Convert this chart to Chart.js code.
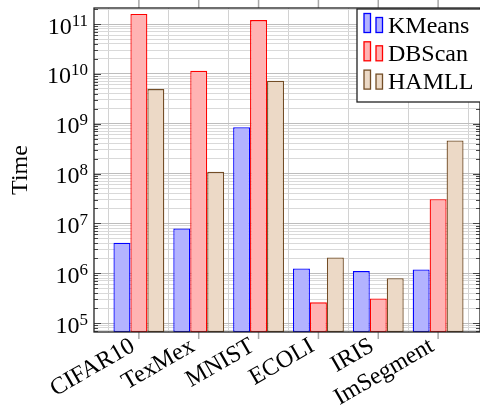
<!DOCTYPE html>
<html>
<head>
<meta charset="utf-8">
<script src="https://cdn.jsdelivr.net/npm/chart.js@4.4.1/dist/chart.umd.min.js"></script>
<style>
  body { margin: 0; background: #fff; }
</style>
</head>
<body>
<canvas id="timeChart" width="480" height="410"></canvas>
<script>
// --- data ---
const categories = ['CIFAR10', 'TexMex', 'MNIST', 'ECOLI', 'IRIS', 'ImSegment'];
const seriesNames = ['KMeans', 'DBScan', 'HAMLL'];
const kmeansTime = [4.1e6, 7.9e6, 8.5e8, 1.24e6, 1.1e6, 1.19e6];
const dbscanTime = [1.6e11, 1.15e10, 1.2e11, 2.6e5, 3.1e5, 3.05e7];
const hamllTime = [4.95e9, 1.08e8, 7.3e9, 2.07e6, 7.9e5, 4.6e8];
const decadeExps = [4, 5, 6, 7, 8, 9, 10, 11];

const fillColors = ['#b3b3ff', '#ffb3b3', '#ecd9c6'];
const lineColors = ['#0000ff', '#ff0000', '#734d26'];
const serif = "'Liberation Serif', 'DejaVu Serif', serif";

Chart.defaults.font.family = serif;
Chart.defaults.font.size = 24;
Chart.defaults.color = '#000';

const allSeries = [kmeansTime, dbscanTime, hamllTime];

function toPoints(arr) {
  return arr.map((v, i) => ({ x: i, y: v }));
}

// frame, tick marks and 10^n labels (pgfplots look)
const framePlugin = {
  id: 'frame',
  afterDatasetsDraw(chart) {
    const { ctx, chartArea: a, scales } = chart;
    const y = scales.y, x = scales.x;
    ctx.save();
    // y ticks pointing inward on both sides
    ctx.strokeStyle = '#444';
    ctx.lineWidth = 1;
    y.ticks.forEach(t => {
      const py = Math.round(y.getPixelForValue(t.value)) + 0.5;
      const len = t.major ? 7 : 4;
      ctx.beginPath();
      ctx.moveTo(a.left, py); ctx.lineTo(a.left + len, py);
      ctx.moveTo(a.right, py); ctx.lineTo(a.right - len, py);
      ctx.stroke();
    });
    // x ticks outside, top and bottom
    ctx.strokeStyle = '#a8a8a8';
    ctx.lineWidth = 1.5;
    x.ticks.forEach(t => {
      const px = x.getPixelForValue(t.value);
      ctx.beginPath();
      ctx.moveTo(px, a.top); ctx.lineTo(px, a.top - 8);
      ctx.moveTo(px, a.bottom); ctx.lineTo(px, a.bottom + 7);
      ctx.stroke();
    });
    ctx.strokeStyle = '#222';
    ctx.lineWidth = 1.3;
    ctx.strokeRect(a.left, a.top, a.right - a.left, a.bottom - a.top);

    // decade labels 10^e with a raised exponent
    ctx.fillStyle = '#000';
    ctx.textBaseline = 'alphabetic';
    ctx.textAlign = 'left';
    y.ticks.filter(t => t.major).forEach(t => {
      const e = Math.round(Math.log10(t.value));
      const py = y.getPixelForValue(t.value);
      ctx.font = '17px ' + serif;
      const ew = ctx.measureText(String(e)).width;
      ctx.font = '24px ' + serif;
      const bw = ctx.measureText('10').width;
      const right = a.left - 6;
      ctx.fillText('10', right - ew - bw, py + 9.5);
      ctx.font = '17px ' + serif;
      ctx.fillText(String(e), right - ew, py + 1.5);
    });
    ctx.restore();
  }
};

// legend box inside the plot, top right
const boxLegend = {
  id: 'boxLegend',
  afterDraw(chart) {
    const { ctx, chartArea: a } = chart;
    const w = 124, h = 93;
    const x0 = a.right - w + 1, y0 = a.top + 1;
    ctx.save();
    ctx.fillStyle = '#fff';
    ctx.fillRect(x0, y0, w, h);
    ctx.strokeStyle = '#222';
    ctx.lineWidth = 1.3;
    ctx.strokeRect(x0, y0, w, h);
    ctx.font = '24px ' + serif;
    ctx.textBaseline = 'alphabetic';
    chart.data.datasets.forEach((ds, i) => {
      const base = y0 + 23.5 + i * 28.3;
      ctx.fillStyle = ds.backgroundColor;
      ctx.strokeStyle = ds.borderColor;
      ctx.lineWidth = 1.3;
      ctx.fillRect(x0 + 7, base - 19, 6.5, 19);
      ctx.strokeRect(x0 + 7, base - 19, 6.5, 19);
      ctx.fillRect(x0 + 19, base - 15, 6.5, 15);
      ctx.strokeRect(x0 + 19, base - 15, 6.5, 15);
      ctx.fillStyle = '#000';
      ctx.fillText(ds.label, x0 + 31, base);
    });
    ctx.restore();
  }
};

new Chart(document.getElementById('timeChart'), {
  type: 'bar',
  data: {
    datasets: seriesNames.map((name, i) => ({
      label: name,
      data: toPoints(allSeries[i]),
      backgroundColor: fillColors[i],
      borderColor: lineColors[i],
      borderWidth: 1.3,
      borderSkipped: false
    }))
  },
  options: {
    responsive: false,
    animation: false,
    layout: { padding: { top: 8, right: 0, left: 0, bottom: 0 } },
    datasets: { bar: { categoryPercentage: 0.85, barPercentage: 1.0 } },
    plugins: {
      legend: { display: false },
      tooltip: { enabled: false }
    },
    scales: {
      x: {
        type: 'linear',
        min: -0.75,
        max: 5.7,
        offset: false,
        afterBuildTicks: s => { s.ticks = categories.map((c, i) => ({ value: i })); },
        afterFit: s => { s.height = 78; s.paddingLeft = 0; s.paddingRight = 0; },
        grid: { color: '#d2d2d2', lineWidth: 1, drawTicks: false },
        border: { display: false },
        ticks: {
          autoSkip: false,
          minRotation: 30,
          maxRotation: 30,
          padding: 0,
          labelOffset: -6,
          font: { size: 24 },
          callback: v => categories[v]
        }
      },
      y: {
        type: 'logarithmic',
        min: 6.6e4,
        max: 2.1e11,
        afterBuildTicks: s => {
          const ticks = [];
          decadeExps.forEach(e => {
            for (let d = 1; d <= 9; d++) {
              const v = d * Math.pow(10, e);
              if (v >= s.min && v <= s.max) ticks.push({ value: v, major: d === 1 });
            }
          });
          s.ticks = ticks;
        },
        afterFit: s => { s.width = 94; s.paddingTop = 0; s.paddingBottom = 0; },
        grid: {
          drawTicks: false,
          color: c => (c.tick && c.tick.major ? '#bdbdbd' : '#d9d9d9'),
          lineWidth: 1
        },
        border: { display: false },
        title: { display: true, text: 'Time', font: { size: 24 }, padding: { top: 6, bottom: 0 } },
        ticks: { display: false, autoSkip: false }
      }
    }
  },
  plugins: [framePlugin, boxLegend]
});
</script>
</body>
</html>
